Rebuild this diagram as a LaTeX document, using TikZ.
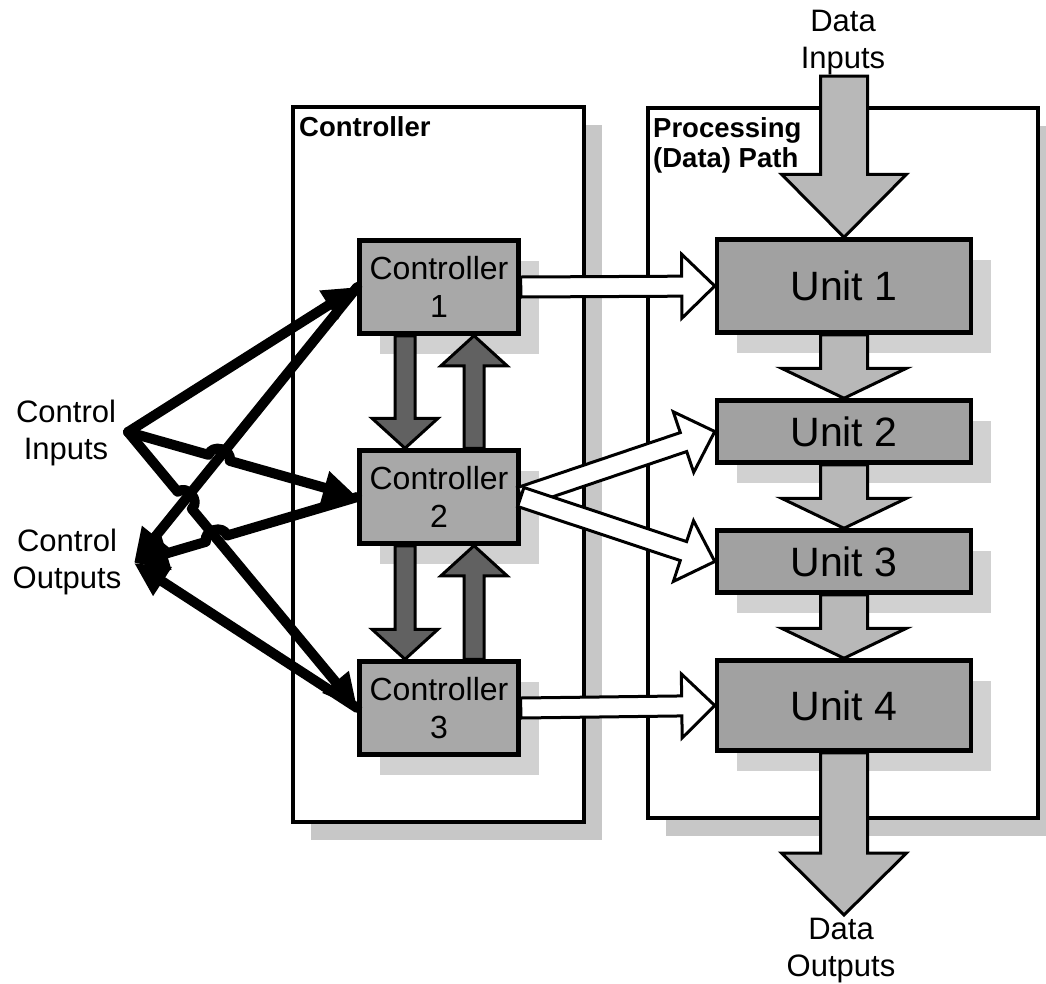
\documentclass[tikz,border=0pt]{standalone}
\usepackage{fontspec}
\setmainfont{Liberation Sans}
\usetikzlibrary{calc,arrows.meta,shadows}

% block arrow: style, start, end, shaft half width, head half width, head length
\newcommand{\blockarrow}[6]{%
  \path (#2) coordinate (ba-s) (#3) coordinate (ba-e);
  \path ($(ba-e)!#6!(ba-s)$) coordinate (ba-h);
  \draw[#1] ($(ba-s)!#4!90:(ba-e)$) -- ($(ba-h)!#4!90:(ba-e)$)
    -- ($(ba-h)!#5!90:(ba-e)$) -- (ba-e) -- ($(ba-h)!#5!-90:(ba-e)$)
    -- ($(ba-h)!#4!-90:(ba-e)$) -- ($(ba-s)!#4!-90:(ba-e)$) -- cycle;
}

\tikzset{
  panel/.style={draw=black, line width=4pt, fill=white},
  panelshadow/.style={fill=black!22, draw=none},
  boxshadow/.style={drop shadow={shadow xshift=20pt, shadow yshift=-20pt, fill=black!18, opacity=1}},
  ctrlbox/.style={draw=black, line width=4.5pt, fill=black!34, minimum width=159pt,
    minimum height=93pt, align=center, inner sep=0pt, boxshadow,
    font=\fontsize{32}{38}\selectfont},
  unitbox/.style={draw=black, line width=4.5pt, fill=black!37, minimum width=254pt,
    inner sep=0pt, boxshadow, font=\fontsize{41}{46}\selectfont},
  whitearrow/.style={draw=black, line width=3pt, fill=white, line join=miter},
  dataarrow/.style={draw=black, line width=3pt, fill=black!28, line join=miter},
  linkarrow/.style={draw=black, line width=3pt, fill=black!62, line join=miter},
  ctl/.style={line width=10pt, line cap=round, line join=round,
    -{Triangle[length=34pt,width=32pt]}},
  lbl/.style={font=\fontsize{31}{37}\selectfont, align=center, inner sep=0pt},
  heading/.style={font=\bfseries\fontsize{27.5}{30}\selectfont, align=left,
    anchor=base west, inner sep=0pt},
}

\begin{document}
\begin{tikzpicture}[x=1pt, y=-1pt]
  \useasboundingbox (0,0) rectangle (1046,983);
  \clip (0,0) rectangle (1046,983);

  % the two panels with their shadows
  \fill[panelshadow] (311,125) rectangle (602,840);
  \draw[panel] (293,107) rectangle (584,822);
  \fill[panelshadow] (666,126) rectangle (1056,836);
  \draw[panel] (648,108) rectangle (1038,818);

  \node[heading] (hctl) at (299,136) {Controller};
  \node[heading] (hproc1) at (653,137) {Processing};
  \node[heading] (hproc2) at (653,167) {(Data) Path};

  % controllers
  \node[ctrlbox] (c1) at (439,287) {Controller\\1};
  \node[ctrlbox] (c2) at (439,497) {Controller\\2};
  \node[ctrlbox] (c3) at (439,708) {Controller\\3};

  % processing units
  \node[unitbox, minimum height=93pt] (u1) at (844,286) {Unit 1};
  \node[unitbox, minimum height=62pt] (u2) at (844,431.5) {Unit 2};
  \node[unitbox, minimum height=62pt] (u3) at (844,561.5) {Unit 3};
  \node[unitbox, minimum height=90pt] (u4) at (844,705.5) {Unit 4};

  % data flow through the units
  \coordinate (din) at (844,76);
  \coordinate (dout) at (844,915);
  \blockarrow{dataarrow}{din}{u1.north}{23.5pt}{62.5pt}{63pt}
  \blockarrow{dataarrow}{u1.south}{u2.north}{23.5pt}{62.5pt}{30pt}
  \blockarrow{dataarrow}{u2.south}{u3.north}{23.5pt}{62.5pt}{30pt}
  \blockarrow{dataarrow}{u3.south}{u4.north}{23.5pt}{62.5pt}{30pt}
  \blockarrow{dataarrow}{u4.south}{dout}{23.5pt}{62.5pt}{62pt}

  % hand-over between controllers
  \coordinate (d12s) at ($(c1.south)+(-34,0)$);
  \coordinate (d12e) at ($(c2.north)+(-34,0)$);
  \coordinate (u21s) at ($(c2.north)+(35,0)$);
  \coordinate (u21e) at ($(c1.south)+(35,0)$);
  \coordinate (d23s) at ($(c2.south)+(-34,0)$);
  \coordinate (d23e) at ($(c3.north)+(-34,0)$);
  \coordinate (u32s) at ($(c3.north)+(35,0)$);
  \coordinate (u32e) at ($(c2.south)+(35,0)$);
  \blockarrow{linkarrow}{d12s}{d12e}{10pt}{33pt}{30pt}
  \blockarrow{linkarrow}{u21s}{u21e}{10pt}{33pt}{30pt}
  \blockarrow{linkarrow}{d23s}{d23e}{10pt}{33pt}{30pt}
  \blockarrow{linkarrow}{u32s}{u32e}{10pt}{33pt}{30pt}

  % control signals to the units
  \blockarrow{whitearrow}{c1.east}{u1.west}{10pt}{32pt}{33pt}
  \blockarrow{whitearrow}{c2.east}{u2.west}{10pt}{32pt}{33pt}
  \blockarrow{whitearrow}{c2.east}{u3.west}{10pt}{32pt}{33pt}
  \blockarrow{whitearrow}{c3.east}{u4.west}{10pt}{32pt}{33pt}

  % control inputs and outputs
  \coordinate (ci) at (128,432);
  \coordinate (co) at (134,563);
  \coordinate (c1w) at (c1.west);
  \coordinate (c2w) at (c2.west);
  \coordinate (c3w) at (c3.west);
  \coordinate (xb) at (intersection of ci--c2w and c1w--co);
  \coordinate (xc) at (intersection of ci--c3w and c1w--co);
  \coordinate (xe) at (intersection of c2w--co and ci--c3w);

  \draw[ctl] (c1w) -- (co);
  \draw[ctl] (c3w) -- (co);
  \draw[ctl] (ci) -- (c1w);
  \draw[ctl] (ci) -- ($(xc)!11pt!(ci)$) to[bend left=90, looseness=1.4] ($(xc)!11pt!(c3w)$) -- (c3w);
  \draw[ctl] (ci) -- ($(xb)!11pt!(ci)$) to[bend left=90, looseness=1.4] ($(xb)!11pt!(c2w)$) -- (c2w);
  \draw[ctl] (c2w) -- ($(xe)!11pt!(c2w)$) to[bend right=90, looseness=1.4] ($(xe)!11pt!(co)$) -- (co);

  % labels
  \node[lbl] (lci) at (66,433) {Control\\Inputs};
  \node[lbl] (lco) at (67,562) {Control\\Outputs};
  \node[lbl] (ldi) at (843,43) {Data\\Inputs};
  \node[lbl] (ldo) at (841,951) {Data\\Outputs};
\end{tikzpicture}
\end{document}
